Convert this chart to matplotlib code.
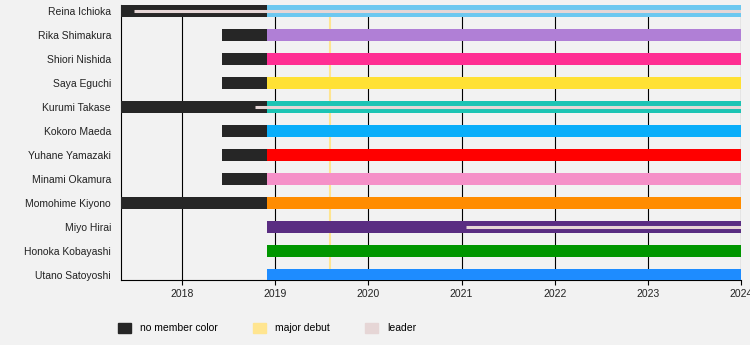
import numpy as np
import matplotlib.pyplot as plt
import matplotlib.dates as mdates
from matplotlib.patches import Patch

plt.rcParams['font.family'] = ['Liberation Sans', 'DejaVu Sans']

names = ["Reina Ichioka", "Rika Shimakura", "Shiori Nishida", "Saya Eguchi",
         "Kurumi Takase", "Kokoro Maeda", "Yuhane Yamazaki", "Minami Okamura",
         "Momohime Kiyono", "Miyo Hirai", "Honoka Kobayashi", "Utano Satoyoshi"]
member_colors = ["#6CC8F0", "#B07FD6", "#FF2E93", "#FFE135",
                 "#1CC4B4", "#0AAEFA", "#FF0000", "#F590C8",
                 "#FF8C00", "#5A2D82", "#009600", "#1E8CFF"]
# time spent in the group before member colours were assigned
pre_start = ["2017-05-07", "2018-06-07", "2018-06-07", "2018-06-07",
             "2017-05-07", "2018-06-07", "2018-06-07", "2018-06-07",
             "2017-05-07", None, None, None]
color_start = "2018-11-30"
end_date = "2024-01-01"
leaders = [("Reina Ichioka", "2017-06-25"),
           ("Kurumi Takase", "2018-10-14"),
           ("Miyo Hirai", "2021-01-20")]
major_debut = "2019-08-04"
years = list(range(2018, 2025))

bg = "#F2F2F2"
nocolor = "#262626"
debut_color = "#FFE590"
leader_color = "#E6D6D6"

fig = plt.figure(figsize=(7.5, 3.45), dpi=100, facecolor=bg)
ax = fig.add_axes([121 / 750, 1 - 280 / 345, 620 / 750, 275 / 345])
ax.set_facecolor(bg)

d = lambda s: mdates.datestr2num(s)
end = d(end_date)
rows = np.arange(len(names))

for i, name in enumerate(names):
    if pre_start[i]:
        ax.barh(i, d(color_start) - d(pre_start[i]), left=d(pre_start[i]),
                height=0.5, color=nocolor, zorder=3)
    ax.barh(i, end - d(color_start), left=d(color_start), height=0.5,
            color=member_colors[i], zorder=3)

for name, start in leaders:
    i = names.index(name)
    ax.plot([d(start), end], [i, i], color=leader_color, lw=2.2,
            solid_capstyle='butt', zorder=4)

ax.axvline(d(major_debut), color=debut_color, lw=1.5, zorder=2)

ax.set_xlim(d("2017-05-07"), end)
ax.set_ylim(11.21, -0.25)
ax.set_yticks(rows)
ax.set_yticklabels(names)
ax.set_xticks([d(f"{y}-01-01") for y in years])
ax.set_xticklabels([str(y) for y in years])
ax.tick_params(axis='y', length=0, pad=7.2, labelsize=7.5, labelcolor="#222222")
ax.tick_params(axis='x', length=3.6, width=0.8, pad=3, labelsize=7.5,
               labelcolor="#222222")
ax.grid(axis='x', color='black', lw=0.8, zorder=1)
ax.set_axisbelow(True)
for side in ['top', 'right']:
    ax.spines[side].set_visible(False)
for side in ['left', 'bottom']:
    ax.spines[side].set_color('black')
    ax.spines[side].set_linewidth(0.8)

handles = [Patch(color=nocolor, label="no member color"),
           Patch(color=debut_color, label="major debut"),
           Patch(color=leader_color, label="leader")]
fig.legend(handles=handles, ncol=3, loc='center left',
           bbox_to_anchor=(118 / 750, 1 - 328 / 345), frameon=False,
           fontsize=7.5, handlelength=1.2, handleheight=1.2,
           handletextpad=0.9, columnspacing=3.4, borderpad=0,
           borderaxespad=0)

fig.savefig("out.png", dpi=100, facecolor=bg)
